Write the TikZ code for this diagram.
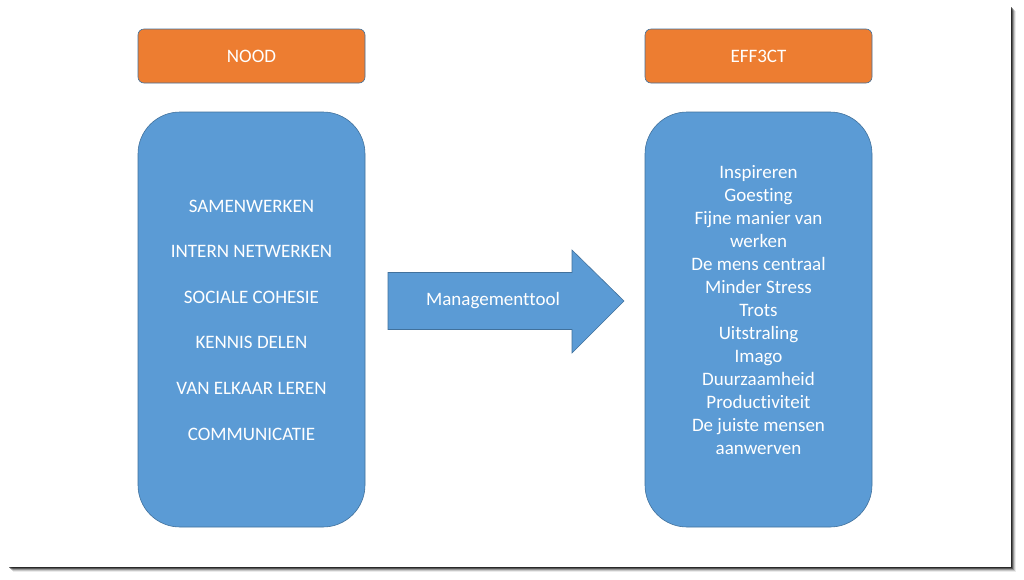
\documentclass[tikz,border=0pt]{standalone}
\usepackage{fontspec}
\setmainfont{Carlito}[Ligatures={NoCommon}]
\definecolor{orangebox}{HTML}{ED7D31}
\definecolor{bluebox}{HTML}{5B9BD5}
\definecolor{edgeblue}{HTML}{41719C}
\tikzset{
  hdr/.style={draw=edgeblue, line width=0.6pt, fill=orangebox, rounded corners=6pt,
    minimum width=227pt, minimum height=54pt, text=white, font=\fontsize{19}{23}\selectfont},
  panel/.style={draw=edgeblue, line width=0.6pt, fill=bluebox, rounded corners=42pt,
    minimum width=227pt, minimum height=415pt},
  paneltext/.style={text=white, align=center, font=\fontsize{19}{23}\selectfont},
  arrowshape/.style={draw=edgeblue, line width=0.6pt, fill=bluebox},
}
\begin{document}
\begin{tikzpicture}[x=1pt,y=-1pt]
\useasboundingbox (0,0) rectangle (1024,579);
\fill[white] (0,0) rectangle (1024,579);
% slide shadow
\foreach \o/\op in {6/0.08,5/0.15,4/0.25,3/0.4,2/0.55}{
  \fill[black,opacity=\op] (7+\o,5+\o) rectangle (1011+\o-1,567+\o-1);
}
\fill[white] (7,5) rectangle (1011,567);
% headers
\node[hdr] (nood) at (251.5,56) {NOOD};
\node[hdr] (effect) at (758.5,56) {EFF3CT};
% panels
\node[panel] (left) at (251.5,319.5) {};
\node[panel] (right) at (758.5,319.5) {};
\node[paneltext, font=\fontsize{19}{45.6}\selectfont] (ltext) at (251.5,320)
  {SAMENWERKEN\\INTERN NETWERKEN\\SOCIALE COHESIE\\KENNIS DELEN\\VAN ELKAAR LEREN\\COMMUNICATIE};
\node[paneltext] (rtext) at (758.5,310)
  {Inspireren\\Goesting\\Fijne manier van\\werken\\De mens centraal\\Minder Stress\\Trots\\Uitstraling\\Imago\\Duurzaamheid\\Productiviteit\\De juiste mensen\\aanwerven};
% arrow
\coordinate (atip) at (624,301);
\draw[arrowshape] (388,272.5) -- (572,272.5) -- (572,250) -- (atip) -- (572,353) -- (572,329.5) -- (388,329.5) -- cycle;
\node[text=white, font=\fontsize{19}{23}\selectfont] (arrowlabel) at (493,301) {Managementtool};
\end{tikzpicture}
\end{document}
